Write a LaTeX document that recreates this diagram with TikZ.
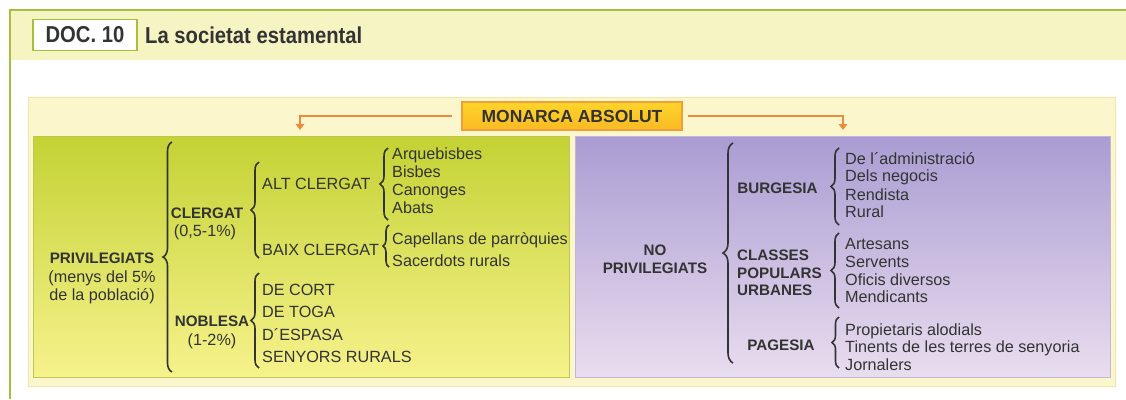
\documentclass[tikz,border=0pt]{standalone}
\usepackage{fontspec}
\setmainfont{Liberation Sans}
\newfontfamily\condf[FakeStretch=0.88]{Liberation Sans}
\usetikzlibrary{decorations.pathreplacing,arrows.meta}
\definecolor{gline}{HTML}{A3C13B}
\definecolor{band}{HTML}{F7F4C4}
\definecolor{outer}{HTML}{FBF6CB}
\definecolor{outerbd}{HTML}{F1E6A6}
\definecolor{gtop}{HTML}{C4D234}
\definecolor{gbot}{HTML}{F6F28C}
\definecolor{ptop}{HTML}{AA9CD2}
\definecolor{pbot}{HTML}{E9DDEF}
\definecolor{montop}{HTML}{FFD52A}
\definecolor{monbot}{HTML}{FAB923}
\definecolor{monbd}{HTML}{F0A03A}
\definecolor{arrc}{HTML}{EE8B3B}
\definecolor{txt}{HTML}{333333}
\begin{document}
\begin{tikzpicture}[x=1pt,y=-1pt,
  it/.style={font=\fontsize{16.2}{18}\selectfont, text=txt, inner sep=0pt},
  bd/.style={font=\fontsize{15.2}{18}\selectfont\bfseries, text=txt, inner sep=0pt},
  brc/.style={decorate, decoration={brace, amplitude=8pt}, line width=1.6pt, draw=txt},
  arr/.style={draw=arrc, line width=2.2pt, -{Triangle[length=6pt,width=8.5pt]}},
  panel/.style={inner sep=0pt, line width=0.6pt}]
\useasboundingbox (0,0) rectangle (1126,399);
\fill[white] (0,0) rectangle (1126,399);
% header
\fill[band] (11,11) rectangle (1126,60);
\draw[gline, line width=2.4pt] (10,399) -- (10,10) -- (1126,10);
\node[draw=gline, line width=1.8pt, fill=white, minimum width=104, minimum height=31, inner sep=0pt,
      font=\condf\fontsize{23}{24}\selectfont\bfseries, text=txt] (doc) at (85,35) {DOC. 10};
\node[anchor=west, inner sep=0pt, font=\condf\fontsize{23}{24}\selectfont\bfseries, text=txt] (title) at (145,35) {La societat estamental};
% diagram background
\node[panel, fill=outer, draw=outerbd, minimum width=1087, minimum height=289] (bg) at (571.5,241.5) {};
\node[panel, top color=gtop, bottom color=gbot, draw=gtop!80!black!60!gbot, minimum width=536, minimum height=241] (gp) at (301,256.5) {};
\node[panel, top color=ptop, bottom color=pbot, draw=ptop!60!pbot, minimum width=535, minimum height=241] (pp) at (842.5,256.5) {};
% monarca
\node[top color=montop, bottom color=monbot, draw=monbd, line width=1.2pt, minimum width=220, minimum height=28, inner sep=0pt,
      font=\fontsize{17.5}{18}\selectfont\bfseries, text=txt] (mon) at (572,116) {MONARCA ABSOLUT};
\coordinate (pl) at (300,130);
\coordinate (pr) at (843,130);
\draw[arr] ([xshift=-9pt]mon.west) -| (pl);
\draw[arr] ([xshift=5pt]mon.east) -| (pr);
% ---- left side
\node[bd, anchor=base] (priv) at (102,263) {PRIVILEGIATS};
\node[it, anchor=base] (priv2) at (102,282) {(menys del 5\%};
\node[it, anchor=base] (priv3) at (102,300) {de la població)};
\coordinate (b1t) at (172,142); \coordinate (b1b) at (172,372);
\draw[brc, decoration={amplitude=9pt}] (b1b) -- (b1t);
\node[bd, anchor=base] (cler) at (207,218) {CLERGAT};
\node[it, anchor=base] (cler2) at (205,236) {(0,5-1\%)};
\node[bd, anchor=base] (nob) at (212,326) {NOBLESA};
\node[it, anchor=base] (nob2) at (212,345) {(1-2\%)};
\coordinate (b2t) at (259,162); \coordinate (b2b) at (259,258);
\draw[brc] (b2b) -- (b2t);
\coordinate (b3t) at (259,273); \coordinate (b3b) at (259,368);
\draw[brc] (b3b) -- (b3t);
\node[it, anchor=base west] (alt) at (262,189) {ALT CLERGAT};
\node[it, anchor=base west] (baix) at (262,255.5) {BAIX CLERGAT};
\node[it, anchor=base west] (n1) at (262,295) {DE CORT};
\node[it, anchor=base west] (n2) at (262,317.5) {DE TOGA};
\node[it, anchor=base west] (n3) at (262,340) {D´ESPASA};
\node[it, anchor=base west] (n4) at (262,362) {SENYORS RURALS};
\coordinate (b4t) at (388,148); \coordinate (b4b) at (388,220);
\draw[brc] (b4b) -- (b4t);
\node[it, anchor=base west] (a1) at (392,159) {Arquebisbes};
\node[it, anchor=base west] (a2) at (392,177) {Bisbes};
\node[it, anchor=base west] (a3) at (392,195.5) {Canonges};
\node[it, anchor=base west] (a4) at (392,213) {Abats};
\coordinate (b5t) at (389,225); \coordinate (b5b) at (389,267);
\draw[brc, decoration={amplitude=6pt}] (b5b) -- (b5t);
\node[it, anchor=base west] (c1) at (392,244) {Capellans de parròquies};
\node[it, anchor=base west] (c2) at (392,266) {Sacerdots rurals};
% ---- right side
\node[bd, anchor=base] (np1) at (655,255.7) {NO};
\node[bd, anchor=base] (np2) at (655,273.3) {PRIVILEGIATS};
\coordinate (b6t) at (733,143); \coordinate (b6b) at (733,363);
\draw[brc, decoration={amplitude=10pt}] (b6b) -- (b6t);
\node[bd, anchor=base] (bur) at (777.5,193.3) {BURGESIA};
\node[bd, anchor=base west] (cl1) at (737,260) {CLASSES};
\node[bd, anchor=base west] (cl2) at (737,278.3) {POPULARS};
\node[bd, anchor=base west] (cl3) at (737,295.7) {URBANES};
\node[bd, anchor=base] (pag) at (781,350.7) {PAGESIA};
\coordinate (b7t) at (839,148); \coordinate (b7b) at (839,225);
\draw[brc] (b7b) -- (b7t);
\coordinate (b8t) at (839,233); \coordinate (b8b) at (839,308);
\draw[brc] (b8b) -- (b8t);
\coordinate (b9t) at (839,317); \coordinate (b9b) at (839,368);
\draw[brc, decoration={amplitude=7pt}] (b9b) -- (b9t);
\node[it, anchor=base west] (r1) at (845,164) {De l´administració};
\node[it, anchor=base west] (r2) at (845,181.7) {Dels negocis};
\node[it, anchor=base west] (r3) at (845,200) {Rendista};
\node[it, anchor=base west] (r4) at (845,217.3) {Rural};
\node[it, anchor=base west] (s1) at (845,249.3) {Artesans};
\node[it, anchor=base west] (s2) at (845,267.3) {Servents};
\node[it, anchor=base west] (s3) at (845,285) {Oficis diversos};
\node[it, anchor=base west] (s4) at (845,302.3) {Mendicants};
\node[it, anchor=base west] (p1) at (845,335) {Propietaris alodials};
\node[it, anchor=base west] (p2) at (845,352.7) {Tinents de les terres de senyoria};
\node[it, anchor=base west] (p3) at (845,370.7) {Jornalers};
\end{tikzpicture}
\end{document}
